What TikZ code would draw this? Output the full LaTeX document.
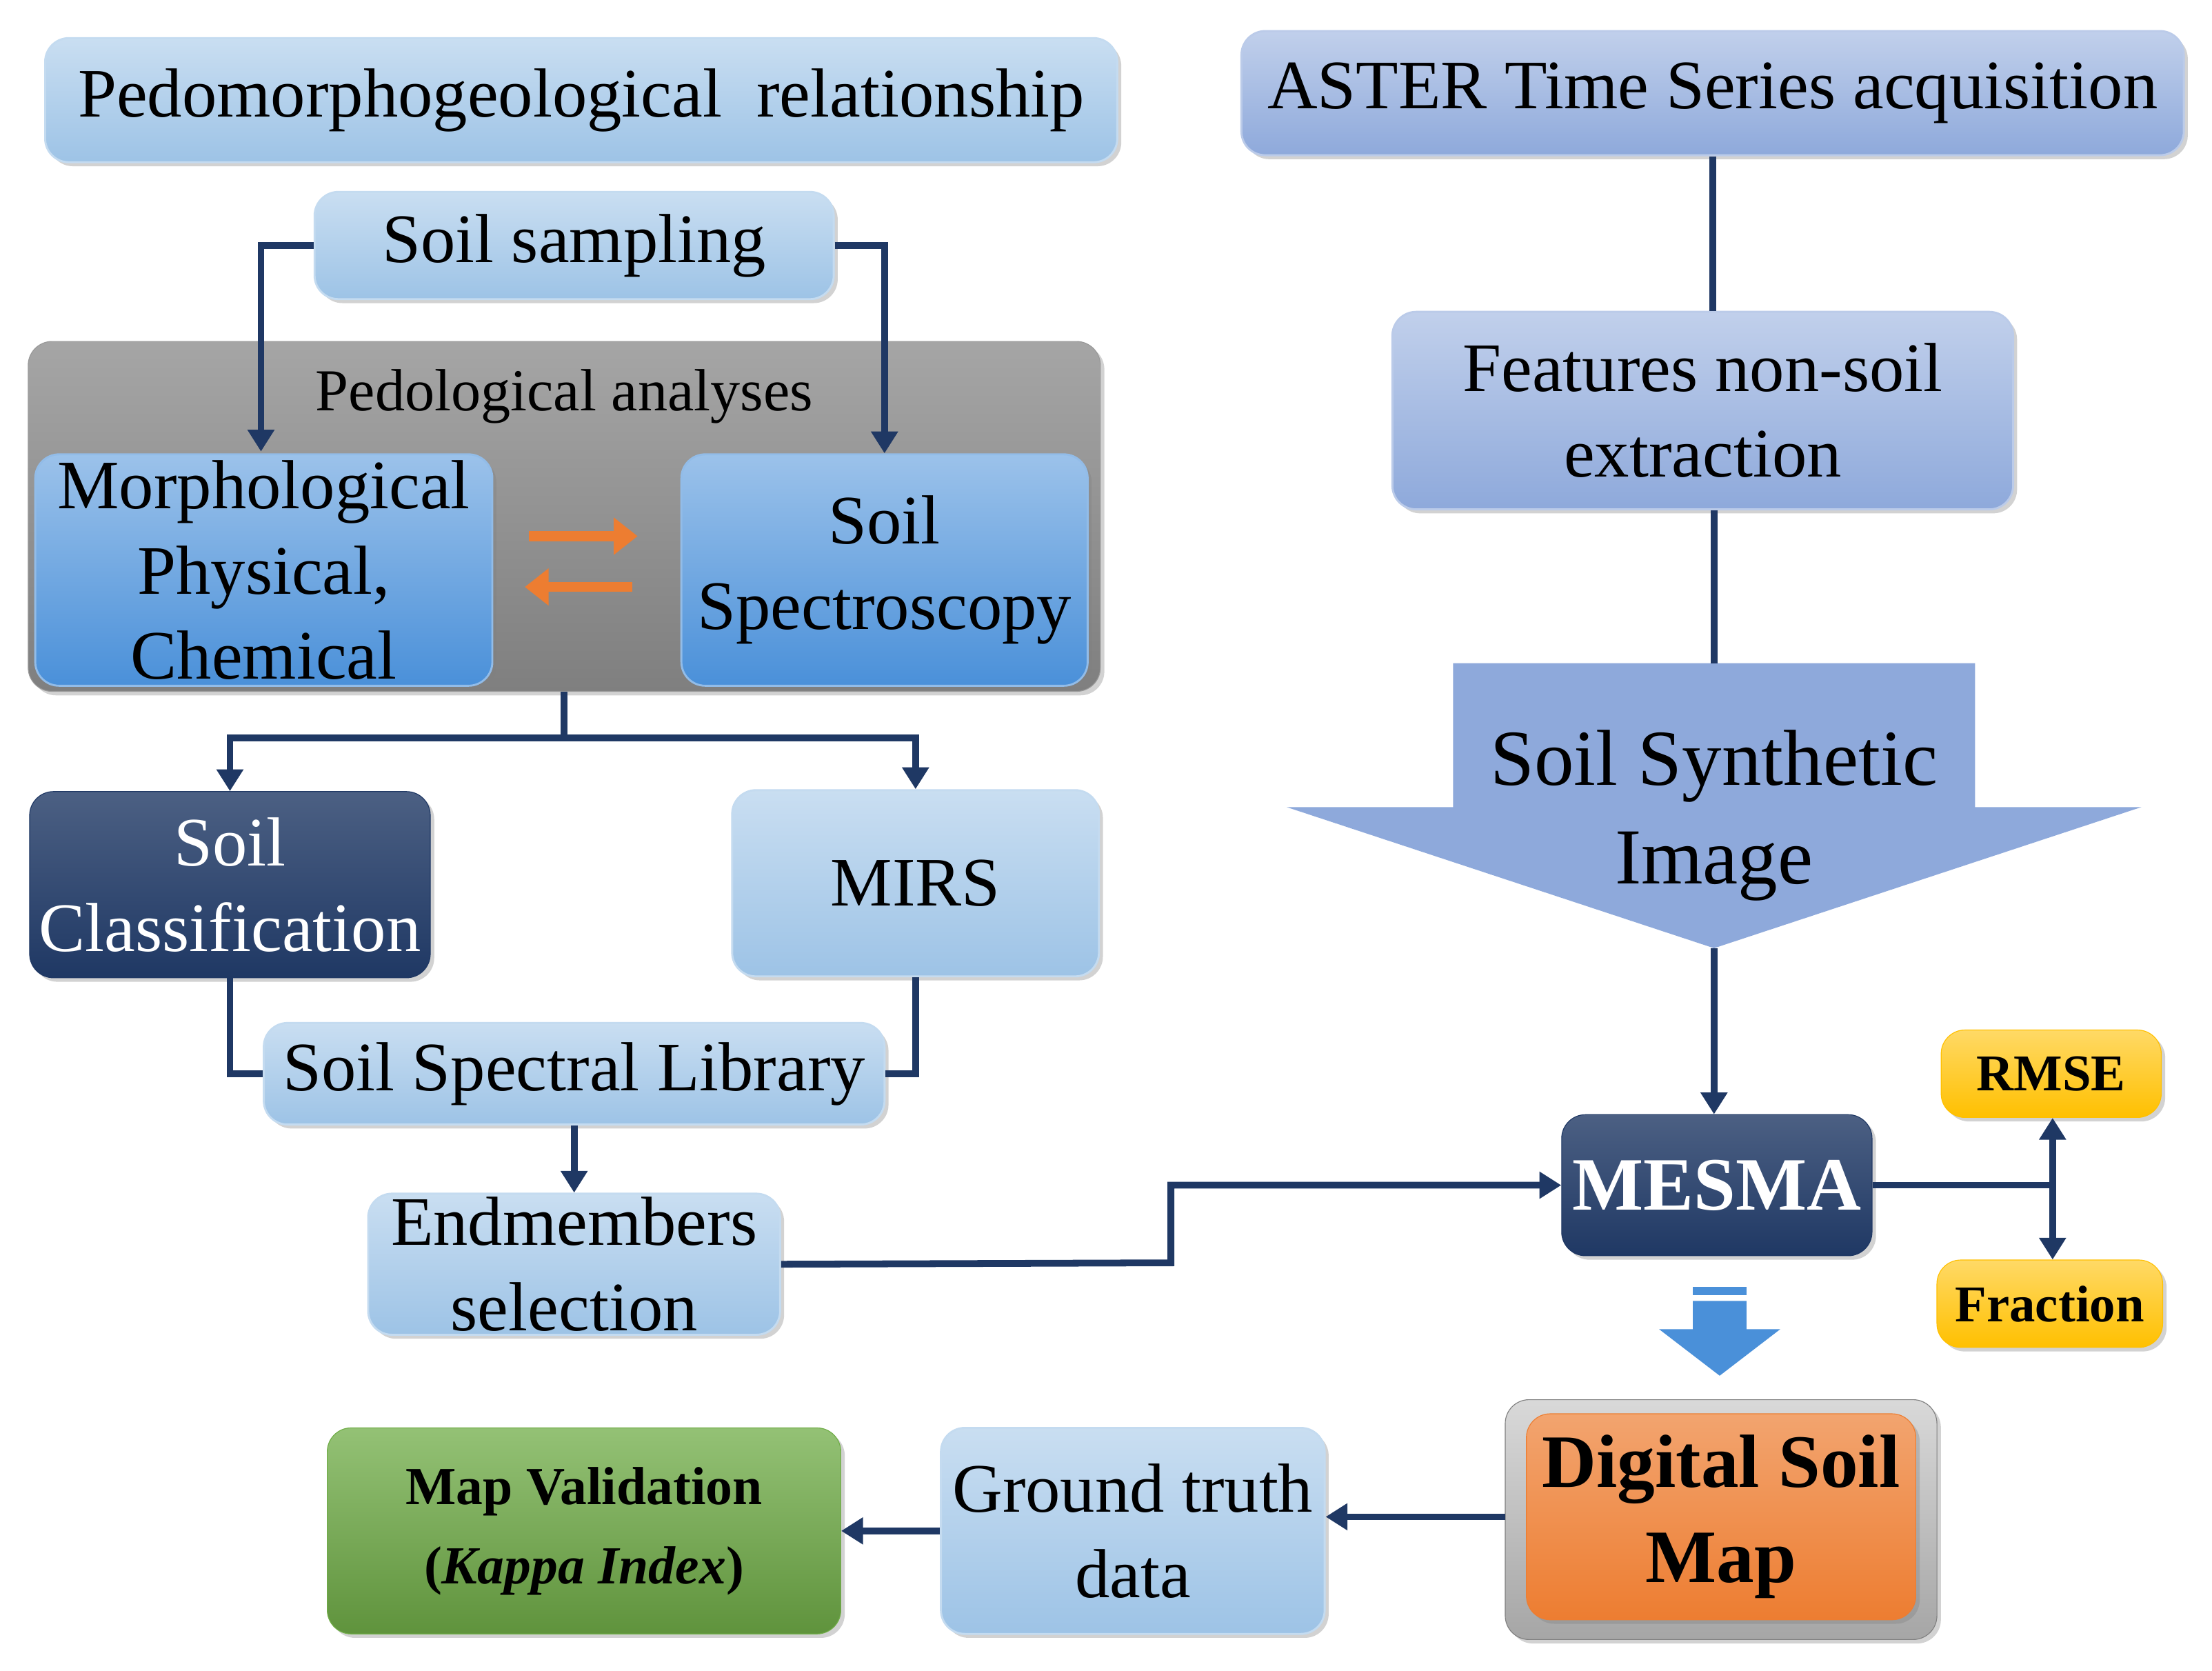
\documentclass[tikz,border=0pt]{standalone}
\usepackage{fontspec}
\setmainfont{Liberation Serif}
\usetikzlibrary{shadows,arrows.meta}
\begin{document}
\begin{tikzpicture}[x=0.25mm,y=-0.25mm,
 box/.style={rounded corners=12pt,drop shadow={shadow xshift=2pt,shadow yshift=-2pt,opacity=.35},align=center,inner sep=0pt},
 lb/.style={box,top color=#1!55!white,bottom color=#1,draw=#1!60!white,line width=1pt},
 lb/.default={c1},
 con/.style={draw=navy,line width=3.4pt},
 arr/.style={con,-{Triangle[length=11pt,width=13pt]}},
 big/.style={font=\fontsize{35}{43}\selectfont},
]
\definecolor{c1}{HTML}{9DC3E6}
\definecolor{c2}{HTML}{4A90D9}
\definecolor{c3}{HTML}{8EA9DB}
\definecolor{navy}{HTML}{1F3864}
\definecolor{gr}{HTML}{7F7F7F}
\definecolor{yel}{HTML}{FFC000}
\definecolor{org}{HTML}{ED7D31}
\definecolor{grn}{HTML}{70AD47}
\useasboundingbox (0,0) rectangle (1568,1184);
\fill[white] (0,0) rectangle (1568,1184);
% left column
\node[lb,minimum width=190mm,minimum height=22mm,big] (ped) at (412,71) {Pedomorphogeological\ \ relationship};
\node[lb,minimum width=92mm,minimum height=19mm,big] (ss) at (407,174) {Soil sampling};
\node[box,top color=gr!70,bottom color=gr,draw=gr!80,minimum width=190mm,minimum height=62mm] (pa) at (400,366) {};
\node[font=\fontsize{30}{36}\selectfont] (pat) at (400,281) {Pedological analyses};
\node[lb=c2,minimum width=81mm,minimum height=41mm,big] (mor) at (187,404) {Morphological\\Physical,\\Chemical};
\node[lb=c2,minimum width=72mm,minimum height=41mm,big] (spec) at (627,404) {Soil\\Spectroscopy};
\coordinate (o1a) at (375,380); \coordinate (o1b) at (452,380);
\coordinate (o2a) at (448,416); \coordinate (o2b) at (372,416);
\draw[draw=org,line width=5pt,-{Triangle[length=12pt,width=18pt]}] (o1a) -- (o1b);
\draw[draw=org,line width=5pt,-{Triangle[length=12pt,width=18pt]}] (o2a) -- (o2b);
\node[box,top color=navy!80,bottom color=navy,draw=navy,text=white,minimum width=71mm,minimum height=33mm,big] (cls) at (163,627) {Soil\\Classification};
\node[lb,minimum width=65mm,minimum height=33mm,big] (mirs) at (649,626) {MIRS};
\node[lb,minimum width=110mm,minimum height=18mm,big] (lib) at (407,761) {Soil Spectral Library};
\node[lb,minimum width=73mm,minimum height=25mm,big] (end) at (407,896) {Endmembers\\selection};
% right column
\node[lb=c3,minimum width=167mm,minimum height=22mm,big] (aster) at (1214,66) {ASTER Time Series acquisition};
\node[lb=c3,minimum width=110mm,minimum height=35mm,big] (feat) at (1207,291) {Features non-soil\\extraction};
\fill[c3] (1030,470) -- (1400,470) -- (1400,572) -- (1518,572) -- (1215,672) -- (912,572) -- (1030,572) -- cycle;
\coordinate (syntop) at (1215,470);
\coordinate (syntip) at (1215,672);
\node[font=\fontsize{40}{50}\selectfont,align=center] (syn) at (1215,578) {Soil Synthetic\\Image};
\node[box,top color=navy!80,bottom color=navy,draw=navy,text=white,minimum width=55mm,minimum height=25mm,font=\bfseries\fontsize{38}{44}\selectfont] (mes) at (1217,840) {MESMA};
\node[box,top color=yel!60,bottom color=yel,draw=yel,minimum width=39mm,minimum height=15.5mm,font=\bfseries\fontsize{26}{30}\selectfont] (rmse) at (1454,761) {RMSE};
\node[box,top color=yel!60,bottom color=yel,draw=yel,minimum width=40mm,minimum height=15.5mm,font=\bfseries\fontsize{26}{30}\selectfont] (frac) at (1453,924) {Fraction};
\fill[c2] (1200,912) rectangle (1238,918);
\fill[c2] (1200,922) -- (1238,922) -- (1238,942) -- (1262,942) -- (1219,975) -- (1176,942) -- (1200,942) -- cycle;
\node[box,top color=gray!30,bottom color=gray!70,draw=gray,minimum width=76.5mm,minimum height=42.5mm] (dsmo) at (1220,1077) {};
\node[box,top color=org!70,bottom color=org,draw=org,minimum width=69mm,minimum height=36.5mm,font=\bfseries\fontsize{38}{48}\selectfont] (dsm) at (1220,1075) {Digital Soil\\Map};
\node[lb,minimum width=68mm,minimum height=36.5mm,big] (gt) at (803,1085) {Ground truth\\data};
\node[box,top color=grn!75,bottom color=grn!85!black,draw=grn,minimum width=91mm,minimum height=36.5mm,font=\bfseries\fontsize{27}{40}\selectfont] (mv) at (414,1085) {Map Validation\\(\textit{Kappa Index})};
% connectors
\coordinate (mtop) at (185,320);
\draw[arr] (ss.west) -| (mtop);
\draw[arr] (ss.east) -| (spec.north);
\coordinate (pb) at (400,523);
\draw[con] (pa.south) -- (pb);
\draw[arr] (pb) -| (cls.north);
\draw[arr] (pb) -| (mirs.north);
\draw[con] (cls.south) |- (lib.west);
\draw[con] (mirs.south) |- (lib.east);
\draw[arr] (lib.south) -- (end.north);
\coordinate (mid1) at (830,895); \coordinate (mid2) at (830,840);
\draw[arr] (end.east) -- (mid1) -- (mid2) -- (mes.west);
\draw[con] (aster.south) -- (feat.north -| aster.south);
\draw[con] (feat.south -| syntop) -- (syntop);
\draw[arr] (syntip) -- (mes.north -| syntip);
\coordinate (rj) at (1455,840);
\draw[con] (mes.east) -- (rj);
\draw[arr] (rj) -- (rmse.south -| rj);
\draw[arr] (rj) -- (frac.north -| rj);
\coordinate (dl) at (1067,1075);
\draw[arr] (dl) -- (gt.east |- dl);
\draw[arr] (gt.west) -- (mv.east);
\end{tikzpicture}
\end{document}
